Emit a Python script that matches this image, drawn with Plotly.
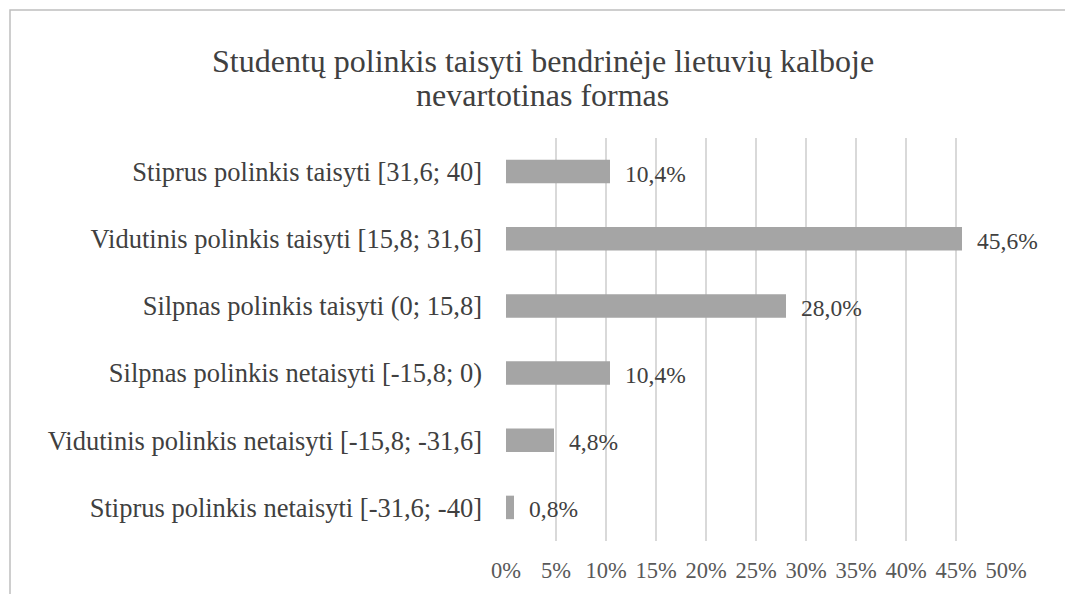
import plotly.graph_objects as go

# categories top -> bottom as shown in the chart
categories = [
    "Stiprus polinkis taisyti [31,6; 40]",
    "Vidutinis polinkis taisyti [15,8; 31,6]",
    "Silpnas polinkis taisyti (0; 15,8]",
    "Silpnas polinkis netaisyti [-15,8; 0)",
    "Vidutinis polinkis netaisyti [-15,8; -31,6]",
    "Stiprus polinkis netaisyti [-31,6; -40]",
]
shares = [10.4, 45.6, 28.0, 10.4, 4.8, 0.8]
share_labels = ["10,4%", "45,6%", "28,0%", "10,4%", "4,8%", "0,8%"]
tick_vals = [0, 5, 10, 15, 20, 25, 30, 35, 40, 45, 50]
tick_text = [f"{v}%" for v in tick_vals]

title_lines = [
    "Studentų polinkis taisyti bendrinėje lietuvių kalboje",
    "nevartotinas formas",
]

FONT = "Liberation Serif"

fig = go.Figure(
    go.Bar(
        x=shares, y=categories, orientation="h",
        marker={"color": "#A5A5A5", "line": {"width": 0}},
        hoverinfo="skip",
    )
)

# value labels just right of each bar end
for v, lab, cat in zip(shares, share_labels, categories):
    fig.add_annotation(
        x=v, y=cat, text=lab, showarrow=False,
        xanchor="left", xshift=13, yshift=-2,
        font={"family": FONT, "size": 23.5, "color": "#404040"},
    )

# title, two lines set tighter than plotly's default line spacing
for txt, ypos in zip(title_lines, [1.191, 1.1067]):
    fig.add_annotation(
        text=txt, xref="paper", yref="paper", x=0.0734, y=ypos,
        xanchor="center", yanchor="middle", showarrow=False,
        font={"family": FONT, "size": 32, "color": "#404040"},
    )

# outer chart border (Excel-style chart area)
fig.add_shape(
    type="rect", xref="paper", yref="paper",
    x0=-0.992, x1=1.2, y0=-0.3, y1=1.3176,
    line={"color": "#BFBFBF", "width": 1.5}, fillcolor="rgba(0,0,0,0)",
    layer="below",
)

fig.update_layout(
    width=1073, height=594,
    paper_bgcolor="white", plot_bgcolor="white",
    margin={"l": 498, "r": 75, "t": 130, "b": 61},
    bargap=0.65,
    showlegend=False,
    font={"family": FONT, "size": 22, "color": "#404040"},
)
fig.update_xaxes(
    range=[0, 50], tickvals=tick_vals, ticktext=tick_text,
    showgrid=True, gridcolor="#D9D9D9", gridwidth=1.5,
    zeroline=False, showline=False, ticks="",
    ticklabelstandoff=13,
    tickfont={"family": FONT, "size": 22.5, "color": "#595959"},
)
fig.update_yaxes(
    autorange="reversed", showgrid=False, zeroline=False,
    showline=False, ticks="", ticklabelstandoff=23,
    tickfont={"family": FONT, "size": 26.5, "color": "#404040"},
)

fig.write_html("out.html")
